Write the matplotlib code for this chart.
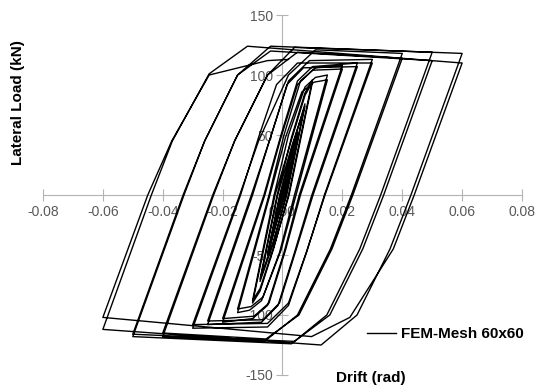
import numpy as np
import matplotlib
matplotlib.use('Agg')
import matplotlib.pyplot as plt
from matplotlib.lines import Line2D

plt.rcParams['font.family'] = ['Liberation Sans', 'DejaVu Sans']

# ── Hysteresis path, one block per drift amplitude ──
# amplitude 0.0025
drift_a = [0.0, 0.0025, 0.0002, -0.0025, -0.0003, 0.0025, 0.0002, -0.0025, -0.0003]
load_a = [0, 27, 0, -26, 0, 26, 0, -25, 0]
# amplitude 0.005
drift_b = [0.0025, 0.005, 0.0006, -0.0025, -0.005, -0.0008,
           0.0025, 0.005, 0.0007, -0.0025, -0.005, -0.0009]
load_b = [30, 52, 0, -28, -50, 0, 29, 51, 0, -27, -49, 0]
# amplitude 0.0075
drift_c = [0.0035, 0.0075, 0.0012, -0.003, -0.0075, -0.0016,
           0.003, 0.0075, 0.0014, -0.003, -0.0075, -0.0018]
load_c = [42, 76, 0, -40, -72, 0, 40, 74, 0, -38, -70, 0]
# amplitude 0.01
drift_d = [0.003, 0.0075, 0.010, 0.0020, -0.003, -0.0075, -0.010, -0.0025,
           0.003, 0.0075, 0.010, 0.0022, -0.003, -0.0075, -0.010, -0.0028]
load_d = [48, 85, 96, 0, -45, -80, -90, 0, 46, 83, 94, 0, -44, -78, -88, 0]
# amplitude 0.015
drift_e = [0.002, 0.0075, 0.011, 0.015, 0.0040, -0.001, -0.007, -0.011, -0.015, -0.0042,
           0.001, 0.0065, 0.0105, 0.015, 0.0045, -0.0005, -0.0065, -0.0105, -0.015, -0.0045]
load_e = [50, 90, 98, 100, 0, -48, -88, -96, -98, 0,
          48, 86, 94, 96, 0, -46, -85, -93, -95, 0]
# amplitude 0.02
drift_f = [0.0005, 0.006, 0.011, 0.020, 0.0056, 0.0005, -0.005, -0.010, -0.020, -0.0059,
           -0.0005, 0.005, 0.010, 0.020, 0.0060, 0.001, -0.0045, -0.0095, -0.020, -0.0062]
load_f = [50, 95, 106, 108, 0, -48, -92, -103, -106, 0,
          48, 92, 104, 105, 0, -46, -90, -101, -103, 0]
# amplitude 0.025
drift_g = [-0.0005, 0.005, 0.010, 0.025, 0.0098, 0.004, -0.0015, -0.007, -0.025, -0.0100,
           -0.004, 0.0015, 0.007, 0.025, 0.0102, 0.0045, -0.001, -0.0065, -0.025, -0.0104]
load_g = [50, 95, 107, 110, 0, -48, -92, -106, -108, 0,
          48, 92, 106, 107, 0, -46, -90, -104, -105, 0]
# amplitude 0.03
drift_h = [-0.004, 0.002, 0.009, 0.030, 0.0140, 0.008, 0.002, -0.005, -0.030, -0.0140,
           -0.008, -0.002, 0.005, 0.030, 0.0142, 0.0082, 0.002, -0.005, -0.030, -0.0143]
load_h = [48, 95, 112, 113, 0, -48, -92, -110, -111, 0,
          48, 92, 110, 110, 0, -46, -90, -107, -108, 0]
# amplitude 0.04
drift_i = [-0.008, 0.002, 0.011, 0.040, 0.0230, 0.016, 0.005, -0.006, -0.040, -0.0230,
           -0.016, -0.005, 0.005, 0.040, 0.0235, 0.0165, 0.0055, -0.0055, -0.040, -0.0233]
load_i = [45, 100, 121, 118, 0, -45, -100, -122, -118, 0,
          45, 100, 119, 114, 0, -45, -100, -120, -115, 0]
# amplitude 0.05
drift_j = [-0.016, -0.005, 0.004, 0.050, 0.0328, 0.0258, 0.0148, 0.003, -0.050, -0.0329,
           -0.026, -0.015, -0.004, 0.050, 0.0338, 0.0268, 0.0158, 0.004, -0.050, -0.0332]
load_j = [45, 100, 123, 119, 0, -45, -100, -124, -118, 0,
          45, 100, 120, 112, 0, -45, -100, -122, -116, 0]
# amplitude 0.06
drift_k = [-0.026, -0.015, -0.004, 0.060, 0.0429, 0.0359, 0.0249, 0.0129, -0.060, -0.0438,
           -0.0368, -0.0245, -0.0117, 0.060, 0.0440, 0.0370, 0.0225, 0.0097, -0.060, -0.0450,
           -0.0370, -0.0245, -0.0050, 0.0020]
load_k = [45, 100, 124, 118, 0, -45, -100, -125, -112, 0,
          45, 101, 124, 110, 0, -45, -102, -118, -102, 0,
          45, 100, 112, 113]

drift = drift_a + drift_b + drift_c + drift_d + drift_e + drift_f + drift_g + drift_h + drift_i + drift_j + drift_k
load = load_a + load_b + load_c + load_d + load_e + load_f + load_g + load_h + load_i + load_j + load_k

x_ticks = [-0.08, -0.06, -0.04, -0.02, 0.0, 0.02, 0.04, 0.06, 0.08]
y_ticks = [-150, -100, -50, 50, 100, 150]

AXIS_GREY = '#b3b3b3'
LABEL_GREY = '#595959'

fig = plt.figure(figsize=(5.36, 3.89), dpi=100)
ax = fig.add_axes([0.0802, 0.036, 0.8937, 0.9254])

ax.plot(drift, load, color='black', lw=1.0, zorder=3)

ax.set_xlim(-0.08, 0.08)
ax.set_ylim(-150, 150)

# axes crossing at the origin
for side in ['top', 'right']:
    ax.spines[side].set_visible(False)
ax.spines['left'].set_position(('data', 0))
ax.spines['bottom'].set_position(('data', 0))
ax.spines['left'].set_color(AXIS_GREY)
ax.spines['bottom'].set_color(AXIS_GREY)

ax.set_xticks(x_ticks)
ax.set_xticklabels([f'{v:.2f}' for v in x_ticks])
ax.set_yticks(y_ticks)
ax.set_yticklabels([str(v) for v in y_ticks])
ax.tick_params(axis='both', direction='inout', length=8, width=0.8,
               color=AXIS_GREY, labelcolor=LABEL_GREY, labelsize=10)
ax.tick_params(axis='x', pad=3)
ax.tick_params(axis='y', pad=3)

fig.text(18 / 536, 1 - 103 / 389, 'Lateral Load (kN)', rotation=90,
         ha='center', va='center', fontsize=11, fontweight='bold')
fig.text(371 / 536, 1 - 378 / 389, 'Drift (rad)',
         ha='center', va='center', fontsize=11, fontweight='bold')

handle = [Line2D([0], [0], color='black', lw=1.0, label='FEM-Mesh 60x60')]
ax.legend(handles=handle, loc='center left', bbox_to_anchor=(367 / 536, 1 - 334 / 389),
          bbox_transform=fig.transFigure, frameon=False, handlelength=1.9,
          handletextpad=0.33, borderpad=0, borderaxespad=0,
          prop={'weight': 'bold', 'size': 11})

fig.savefig('out.png', dpi=100, facecolor='white')
plt.close(fig)
